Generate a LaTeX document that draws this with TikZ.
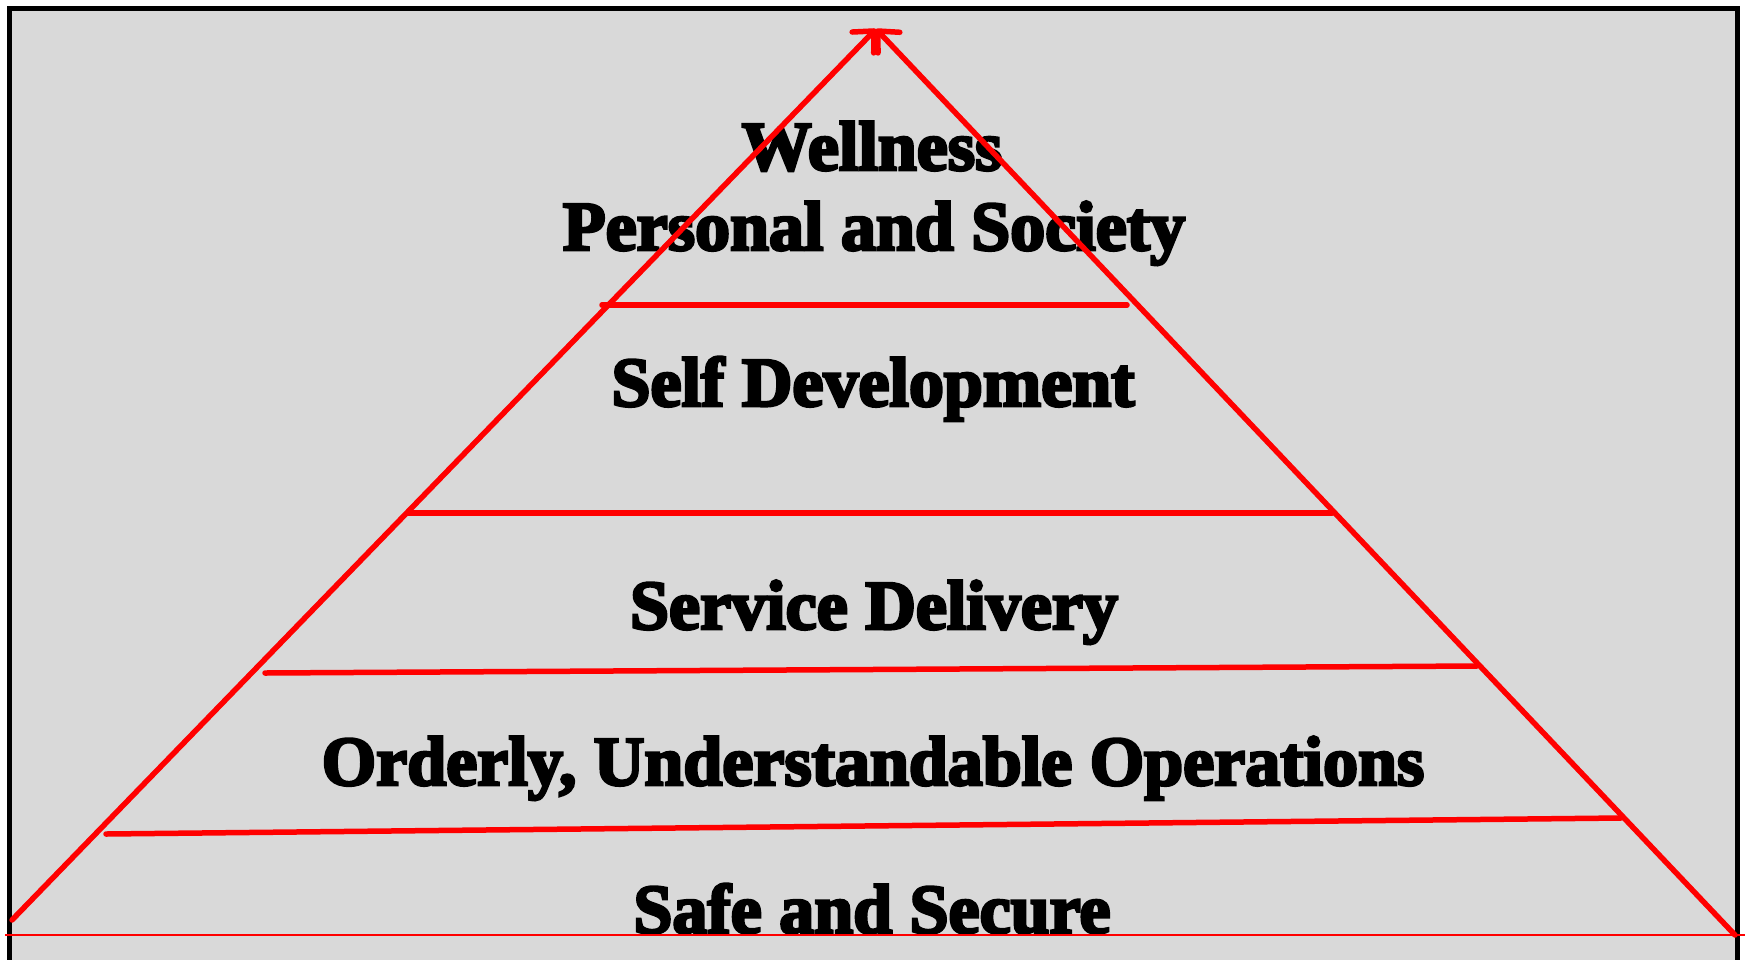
\documentclass[tikz,border=0pt]{standalone}
\usepackage{fontspec}
\setmainfont{Liberation Serif}[BoldFeatures={FakeBold=4}]
\usetikzlibrary{arrows.meta}
\tikzset{
  redline/.style={draw=red, line width=5.5pt, line cap=round},
  thinred/.style={draw=red, line width=2.2pt},
  apexarrow/.style={-{Straight Barb[length=16pt,width=30pt,line width=5.5pt,round]}},
  lbl/.style={anchor=base, inner sep=0pt, font=\fontsize{70}{70}\selectfont\bfseries, text=black},
}
\begin{document}
\begin{tikzpicture}[x=1pt,y=-1pt]
\useasboundingbox (0,0) rectangle (1745,959);
\fill[white] (0,0) rectangle (1745,959);
\filldraw[fill={rgb,255:red,217;green,217;blue,217}, draw=black, line width=5pt] (9.5,8.5) rectangle (1737.5,975);
% texts
\node[lbl] (t1) at (872,170) {Wellness};
\node[lbl] (t2) at (874,250) {Personal and Society};
\node[lbl] (t3) at (873,406) {Self Development};
\node[lbl] (t4) at (874,629) {Service Delivery};
\node[lbl] (t5) at (873,785) {Orderly, Understandable Operations};
\node[lbl] (t6) at (872,933) {Safe and Secure};
% coordinates
\coordinate (apex) at (876,29);
\coordinate (bl) at (12,920);
\coordinate (br) at (1735,935);
\coordinate (a1) at (602,305);  \coordinate (b1) at (1127,305);
\coordinate (a2) at (408,513);  \coordinate (b2) at (1332,513);
\coordinate (a3) at (265,673);  \coordinate (b3) at (1477,666);
\coordinate (a4) at (106,834);  \coordinate (b4) at (1621,818);
\coordinate (g1) at (5,935);    \coordinate (g2) at (1745,935);
% lines
\draw[redline] (a1) -- (b1);
\draw[redline] (a2) -- (b2);
\draw[redline] (a3) -- (b3);
\draw[redline] (a4) -- (b4);
\draw[thinred] (g1) -- (g2);
\draw[redline, apexarrow] (bl) -- (apex);
\draw[redline, apexarrow] (br) -- (apex);
\end{tikzpicture}
\end{document}
